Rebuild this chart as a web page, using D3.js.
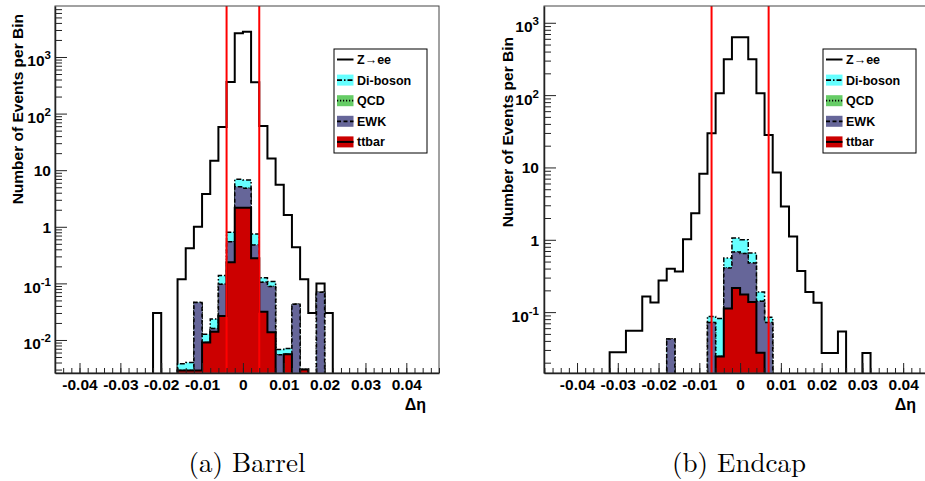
<!DOCTYPE html>
<html><head><meta charset="utf-8">
<script src="https://cdn.jsdelivr.net/npm/d3@7"></script>
<style>
body{margin:0;background:#fff}
svg{display:block}
.b{font-family:"Liberation Sans",Arial,Helvetica,sans-serif;font-weight:bold}
</style>
</head><body>
<svg id="c" width="925" height="481"></svg>
<script>
// ---------------- data ----------------
const binWidth = 0.002;
const legendNames = ["Z\u2192ee", "Di-boson", "QCD", "EWK", "ttbar"];
const xTickValues = [-0.04, -0.03, -0.02, -0.01, 0, 0.01, 0.02, 0.03, 0.04];
const xTickLabels = ["-0.04", "-0.03", "-0.02", "-0.01", "0", "0.01", "0.02", "0.03", "0.04"];
const yTickValues = [1000, 100, 10, 1, 0.1, 0.01];
const yTickBase = ["10", "10", "10", "1", "10", "10"];
const yTickExp = ["3", "2", "", "", "-1", "-2"];

// Barrel: lower bin edges and per-bin contents
const barrelBins = [-0.022, -0.020, -0.018, -0.016, -0.014, -0.012, -0.010, -0.008, -0.006, -0.004, -0.002,
                    0, 0.002, 0.004, 0.006, 0.008, 0.010, 0.012, 0.014, 0.016, 0.018, 0.020];
const barrelZee = [0.03, 0, 0, 0.115, 0.415, 0.96, 3.8, 14.7, 58, 360, 2620,
                   2790, 356, 60, 16, 5.5, 1.6, 0.39, 0.115, 0.03, 0.03, 0.03];
const barrelDiboson = [0, 0, 0, 0.0009, 0.0011, 0, 0.0036, 0.0075, 0.041, 0.254, 1.8,
                       1.91, 0.27, 0.021, 0.02, 0.0013, 0.0015, 0, 0, 0, 0, 0];
const barrelQCD = [0, 0, 0, 0, 0, 0, 0, 0, 0, 0, 0,
                   0, 0, 0, 0, 0, 0, 0, 0, 0, 0, 0];
const barrelEWK = [0, 0, 0, 0, 0, 0.043, 0, 0.002, 0.07, 0.31, 2.93,
                   2.62, 0.2, 0.073, 0.074, 0.0055, 0, 0.043, 0, 0, 0.07, 0];
const barrelTtbar = [0, 0, 0, 0.0029, 0.0029, 0.0029, 0.009, 0.014, 0.0265, 0.236, 2.17,
                     2.17, 0.277, 0.0316, 0.0137, 0, 0.0056, 0, 0.003, 0, 0, 0];
const barrelCut = 0.004;

// Endcap
const endcapBins = [-0.032, -0.030, -0.028, -0.026, -0.024, -0.022, -0.020, -0.018, -0.016, -0.014, -0.012,
                    -0.010, -0.008, -0.006, -0.004, -0.002, 0, 0.002, 0.004, 0.006, 0.008, 0.010,
                    0.012, 0.014, 0.016, 0.018, 0.020, 0.022, 0.024, 0.026, 0.028, 0.030];
const endcapZee = [0.0278, 0.0278, 0.0553, 0.0553, 0.165, 0.136, 0.274, 0.355, 0.365, 1.02, 2.33,
                   8.2, 29.6, 106, 312, 628, 628, 312, 106, 28.1, 8.5, 2.88,
                   1.11, 0.37, 0.19, 0.135, 0.0272, 0.0272, 0.054, 0, 0, 0.0272];
const endcapDiboson = [0, 0, 0, 0, 0, 0, 0, 0, 0, 0, 0,
                       0, 0.015, 0.057, 0.152, 0.379, 0.355, 0.178, 0.049, 0.013, 0, 0,
                       0, 0, 0, 0, 0, 0, 0, 0, 0, 0];
const endcapQCD = [0, 0, 0, 0, 0, 0, 0, 0, 0, 0, 0,
                   0, 0, 0, 0, 0, 0, 0, 0, 0, 0, 0,
                   0, 0, 0, 0, 0, 0, 0, 0, 0, 0];
const endcapEWK = [0, 0, 0, 0, 0, 0, 0, 0.0425, 0, 0, 0,
                   0, 0.072, 0, 0.294, 0.461, 0.47, 0.339, 0.1135, 0.072, 0, 0,
                   0, 0, 0, 0, 0, 0, 0, 0, 0, 0];
const endcapTtbar = [0, 0, 0, 0, 0, 0, 0, 0, 0, 0, 0,
                     0, 0, 0.0244, 0.112, 0.215, 0.175, 0.138, 0.0275, 0, 0, 0,
                     0, 0, 0, 0, 0, 0, 0, 0, 0, 0];
const endcapCut = 0.007;

// ---------------- drawing ----------------
const svg = d3.select("#c");
const defs = svg.append("defs");
const fills = ["#cc0000", "#666699", "#66cc66", "#66ffff", "#ffffff"]; // ttbar, EWK, QCD, Di-boson, Z
const dashes = [null, "4,2.5", "1.2,1.8", "5,2,1.5,2", null];
const widths = [2, 1.5, 1.5, 1.5, 2];

function drawPanel(cfg) {
  const x = d3.scaleLinear().domain(cfg.xDomain).range([cfg.left, cfg.right]);
  const y = d3.scaleLog().domain(cfg.yDomain).range([cfg.bottom, cfg.top]);
  const g = svg.append("g");
  const clipId = "clip" + cfg.id;
  defs.append("clipPath").attr("id", clipId).append("rect")
    .attr("x", cfg.left).attr("y", cfg.top)
    .attr("width", cfg.right - cfg.left).attr("height", cfg.bottom - cfg.top);

  g.append("rect").attr("x", cfg.left).attr("y", cfg.top)
    .attr("width", cfg.right - cfg.left).attr("height", cfg.bottom - cfg.top)
    .attr("fill", "#fff");

  const plot = g.append("g").attr("clip-path", `url(#${clipId})`);
  const comps = [cfg.ttbar, cfg.ewk, cfg.qcd, cfg.diboson, cfg.zee];
  const n = cfg.bins.length;
  let run = new Array(n).fill(0);
  const cum = comps.map(c => (run = run.map((r, i) => r + c[i])));
  const below = cfg.bottom + 6;
  const yv = v => (v > cfg.yDomain[0] ? y(v) : below);
  for (let k = 4; k >= 0; k--) {
    const vals = cum[k];
    const pts = [[x(cfg.bins[0]), below]];
    vals.forEach((v, i) => {
      const lo = cfg.bins[i], hi = lo + binWidth;
      pts.push([x(lo), yv(v)], [x(hi), yv(v)]);
    });
    pts.push([x(cfg.bins[n - 1] + binWidth), below]);
    plot.append("path").attr("d", d3.line()(pts))
      .attr("fill", fills[k]).attr("stroke", "#000")
      .attr("stroke-width", widths[k])
      .attr("stroke-dasharray", dashes[k])
      .attr("stroke-linejoin", "miter");
  }

  // cut lines
  [-cfg.cut, cfg.cut].forEach(c => {
    g.append("line").attr("x1", x(c)).attr("x2", x(c))
      .attr("y1", cfg.top).attr("y2", cfg.bottom)
      .attr("stroke", "#ff0000").attr("stroke-width", 2);
  });

  // frame
  g.append("rect").attr("x", cfg.left).attr("y", cfg.top)
    .attr("width", cfg.right - cfg.left).attr("height", cfg.bottom - cfg.top)
    .attr("fill", "none").attr("stroke", "#444").attr("stroke-width", 1);

  // x axis minor + major
  const minor = d3.range(-0.05, 0.0501, 0.002).map(v => +v.toFixed(3))
    .filter(v => v >= cfg.xDomain[0] && v <= cfg.xDomain[1]);
  g.append("g").attr("transform", `translate(0,${cfg.bottom})`)
    .call(d3.axisBottom(x).tickValues(minor).tickSizeInner(-5).tickSizeOuter(0).tickFormat(""))
    .call(a => a.select(".domain").remove())
    .call(a => a.selectAll("line").attr("stroke", "#222"));
  const xa = g.append("g").attr("transform", `translate(0,${cfg.bottom})`)
    .call(d3.axisBottom(x).tickValues(xTickValues).tickSizeInner(-10).tickSizeOuter(0)
      .tickPadding(6).tickFormat((d, i) => xTickLabels[i]));
  xa.select(".domain").attr("stroke", "#222").attr("stroke-width", 1.5);
  xa.selectAll("line").attr("stroke", "#222");
  xa.selectAll("text").attr("class", "b").attr("font-size", 15.5).attr("fill", "#000");

  // y axis minor ticks
  const lo = Math.floor(Math.log10(cfg.yDomain[0])), hi = Math.ceil(Math.log10(cfg.yDomain[1]));
  const yMinor = [];
  for (let e = lo; e <= hi; e++) for (let m = 2; m <= 9; m++) {
    const v = m * Math.pow(10, e);
    if (v >= cfg.yDomain[0] && v <= cfg.yDomain[1]) yMinor.push(v);
  }
  g.append("g").attr("transform", `translate(${cfg.left},0)`)
    .call(d3.axisLeft(y).tickValues(yMinor).tickSizeInner(-7).tickSizeOuter(0).tickFormat(""))
    .call(a => a.select(".domain").remove())
    .call(a => a.selectAll("line").attr("stroke", "#222"));
  const yVals = yTickValues.filter(v => v >= cfg.yDomain[0] && v <= cfg.yDomain[1]);
  const ya = g.append("g").attr("transform", `translate(${cfg.left},0)`)
    .call(d3.axisLeft(y).tickValues(yVals).tickSizeInner(-12).tickSizeOuter(0)
      .tickPadding(cfg.yPad).tickFormat(""));
  ya.select(".domain").attr("stroke", "#222").attr("stroke-width", 1.5);
  ya.selectAll("line").attr("stroke", "#222");
  ya.selectAll(".tick").each(function (d) {
    const i = yTickValues.indexOf(d);
    const t = d3.select(this).select("text")
      .attr("class", "b").attr("font-size", 15.5).attr("fill", "#000");
    t.text(null);
    const shift = yTickExp[i] ? 3.5 : 0;
    t.attr("dy", null).attr("y", 5.5 + shift);
    t.append("tspan").text(yTickBase[i]);
    if (yTickExp[i]) t.append("tspan").attr("dy", -7).attr("font-size", 11.5).text(yTickExp[i]);
  });

  // axis titles
  g.append("text").attr("class", "b").attr("font-size", 15.5)
    .attr("text-anchor", "end")
    .attr("transform", `translate(${cfg.yTitleX},${cfg.yTitleEnd}) rotate(-90)`)
    .text("Number of Events per Bin");
  g.append("text").attr("class", "b").attr("font-size", 16)
    .attr("text-anchor", "end").attr("x", cfg.xTitleEnd).attr("y", 410)
    .text("\u0394\u03b7");

  // legend
  const L = cfg.legend;
  const lg = g.append("g");
  lg.append("rect").attr("x", L.x).attr("y", L.y).attr("width", L.w).attr("height", L.h)
    .attr("fill", "#fff").attr("stroke", "#000").attr("stroke-width", 1);
  const order = [4, 3, 2, 1, 0];
  legendNames.forEach((name, r) => {
    const k = order[r];
    const cy = L.y + 10.5 + r * 20.6;
    if (k !== 4) {
      lg.append("rect").attr("x", L.x + 3).attr("y", cy - 5.5).attr("width", 16.5).attr("height", 11)
        .attr("fill", fills[k]);
    }
    lg.append("line").attr("x1", L.x + 3).attr("x2", L.x + 19.5).attr("y1", cy).attr("y2", cy)
      .attr("stroke", "#000").attr("stroke-width", k === 0 || k === 4 ? 2 : 1.8)
      .attr("stroke-dasharray", dashes[k]);
    lg.append("text").attr("class", "b").attr("font-size", 12.5)
      .attr("x", L.x + 23).attr("y", cy + 4.5).text(name);
  });

  // caption
  svg.append("text").attr("x", cfg.captionX).attr("y", 472)
    .attr("text-anchor", "middle")
    .attr("font-family", "'Latin Modern Roman','CMU Serif','Liberation Serif','Times New Roman',serif")
    .attr("font-size", 27).text(cfg.caption);
}

drawPanel({
  id: "a", left: 55, right: 439, top: 6, bottom: 373,
  xDomain: [-0.046, 0.048], yDomain: [0.00261, 7960],
  bins: barrelBins, zee: barrelZee, diboson: barrelDiboson, qcd: barrelQCD, ewk: barrelEWK, ttbar: barrelTtbar,
  cut: barrelCut, yPad: 4, yTitleX: 23, yTitleEnd: 14, xTitleEnd: 426,
  legend: {x: 334, y: 49, w: 93, h: 104}, captionX: 247, caption: "(a) Barrel"
});
drawPanel({
  id: "b", left: 544, right: 926, top: 6, bottom: 373,
  xDomain: [-0.0481, 0.0456], yDomain: [0.0144, 1706],
  bins: endcapBins, zee: endcapZee, diboson: endcapDiboson, qcd: endcapQCD, ewk: endcapEWK, ttbar: endcapTtbar,
  cut: endcapCut, yPad: 5, yTitleX: 513, yTitleEnd: 37, xTitleEnd: 916,
  legend: {x: 823, y: 49, w: 93, h: 104}, captionX: 739, caption: "(b) Endcap"
});
</script>
</body></html>
